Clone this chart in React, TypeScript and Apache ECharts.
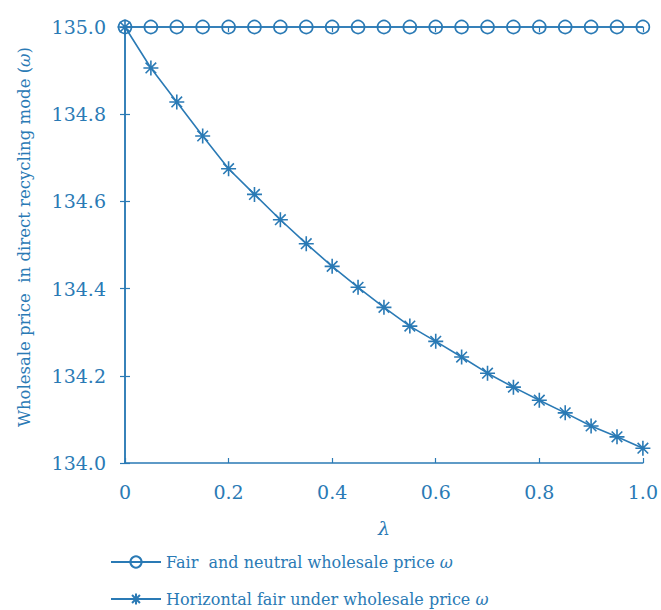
import React, { useEffect, useRef } from "react";
import * as echarts from "echarts";

const lambdas = [0, 0.05, 0.1, 0.15, 0.2, 0.25, 0.3, 0.35, 0.4, 0.45, 0.5, 0.55, 0.6, 0.65, 0.7, 0.75, 0.8, 0.85, 0.9, 0.95, 1.0];
const fairNeutral = [135.0, 135.0, 135.0, 135.0, 135.0, 135.0, 135.0, 135.0, 135.0, 135.0, 135.0, 135.0, 135.0, 135.0, 135.0, 135.0, 135.0, 135.0, 135.0, 135.0, 135.0];
const horizontalFair = [135.0, 134.906, 134.828, 134.75, 134.675, 134.616, 134.558, 134.503, 134.451, 134.403, 134.357, 134.314, 134.279, 134.243, 134.206, 134.174, 134.144, 134.115, 134.085, 134.06, 134.034];
const seriesNames = ["Fair  and neutral wholesale price ", "Horizontal fair under wholesale price "];

const BLUE = "#2a7ab5";
const FONT = "DejaVu Serif";
const STAR = "path://M0,-10L0,10M-10,0L10,0M-7.07,-7.07L7.07,7.07M-7.07,7.07L7.07,-7.07";

export default function App() {
  const ref = useRef<HTMLDivElement>(null);
  useEffect(() => {
    const chart = echarts.init(ref.current!, null, { renderer: "svg" });
    const axisCommon = {
      type: "value" as const,
      axisLine: { show: true, lineStyle: { color: BLUE, width: 1.5 } },
      axisTick: { show: true, inside: true, length: 5, lineStyle: { color: BLUE, width: 1.2 } },
      splitLine: { show: false },
    };
    const legendCommon = {
      orient: "horizontal" as const,
      left: 110,
      padding: 0,
      itemWidth: 50,
      itemHeight: 14,
      formatter: (name: string) => `{t|${name}}{i|ω}`,
      textStyle: {
        rich: {
          t: { fontFamily: FONT, fontSize: 16, color: BLUE },
          i: { fontFamily: FONT, fontSize: 16, fontStyle: "italic", color: BLUE },
        },
      },
    };
    chart.setOption({
      animation: false,
      backgroundColor: "#ffffff",
      grid: { left: 125, right: 14, top: 27, bottom: 147, containLabel: false },
      legend: [
        { ...legendCommon, top: 554, data: [seriesNames[0]] },
        { ...legendCommon, top: 591, data: [seriesNames[1]] },
      ],
      xAxis: [
        {
          ...axisCommon,
          position: "bottom",
          min: 0,
          max: 1,
          interval: 0.2,
          name: "λ",
          nameLocation: "middle",
          nameGap: 55,
          nameTextStyle: { fontFamily: FONT, fontSize: 19, fontStyle: "italic", color: BLUE },
          axisLabel: {
            margin: 19,
            fontFamily: FONT,
            fontSize: 19,
            color: BLUE,
            formatter: (v: number) => (v === 0 ? "0" : v.toFixed(1)),
          },
        },
        {
          ...axisCommon,
          position: "top",
          min: 0,
          max: 1,
          interval: 0.2,
          axisLabel: { show: false },
        },
      ],
      yAxis: [
        {
          ...axisCommon,
          position: "left",
          min: 134,
          max: 135,
          interval: 0.2,
          name: "{t|Wholesale price  in direct recycling mode (}{i|ω}{t|)}",
          nameLocation: "middle",
          nameGap: 92,
          nameTextStyle: {
            fontFamily: FONT,
            fontSize: 16.5,
            color: BLUE,
            padding: [0, 0, 0, 16],
            rich: {
              t: { fontFamily: FONT, fontSize: 16.5, color: BLUE },
              i: { fontFamily: FONT, fontSize: 16.5, fontStyle: "italic", color: BLUE },
            },
          },
          axisLabel: {
            margin: 19,
            fontFamily: FONT,
            fontSize: 19,
            color: BLUE,
            formatter: (v: number) => v.toFixed(1),
          },
        },
        {
          ...axisCommon,
          position: "right",
          min: 134,
          max: 135,
          interval: 0.2,
          axisLabel: { show: false },
        },
      ],
      series: [
        {
          name: seriesNames[0],
          type: "line",
          data: lambdas.map((x, i) => [x, fairNeutral[i]]),
          symbol: "circle",
          symbolSize: 13,
          showAllSymbol: true,
          lineStyle: { color: BLUE, width: 1.6 },
          itemStyle: { color: "rgba(0,0,0,0)", borderColor: BLUE, borderWidth: 1.6 },
          emphasis: { disabled: true },
          clip: false,
        },
        {
          name: seriesNames[1],
          type: "line",
          data: lambdas.map((x, i) => [x, horizontalFair[i]]),
          symbol: STAR,
          symbolSize: 15,
          showAllSymbol: true,
          lineStyle: { color: BLUE, width: 1.6 },
          itemStyle: { color: "rgba(0,0,0,0)", borderColor: BLUE, borderWidth: 1.6 },
          emphasis: { disabled: true },
          clip: false,
        },
      ],
    });
    return () => chart.dispose();
  }, []);
  return <div ref={ref} style={{ width: 661, height: 610, position: "absolute", left: 0, top: 0 }} />;
}
